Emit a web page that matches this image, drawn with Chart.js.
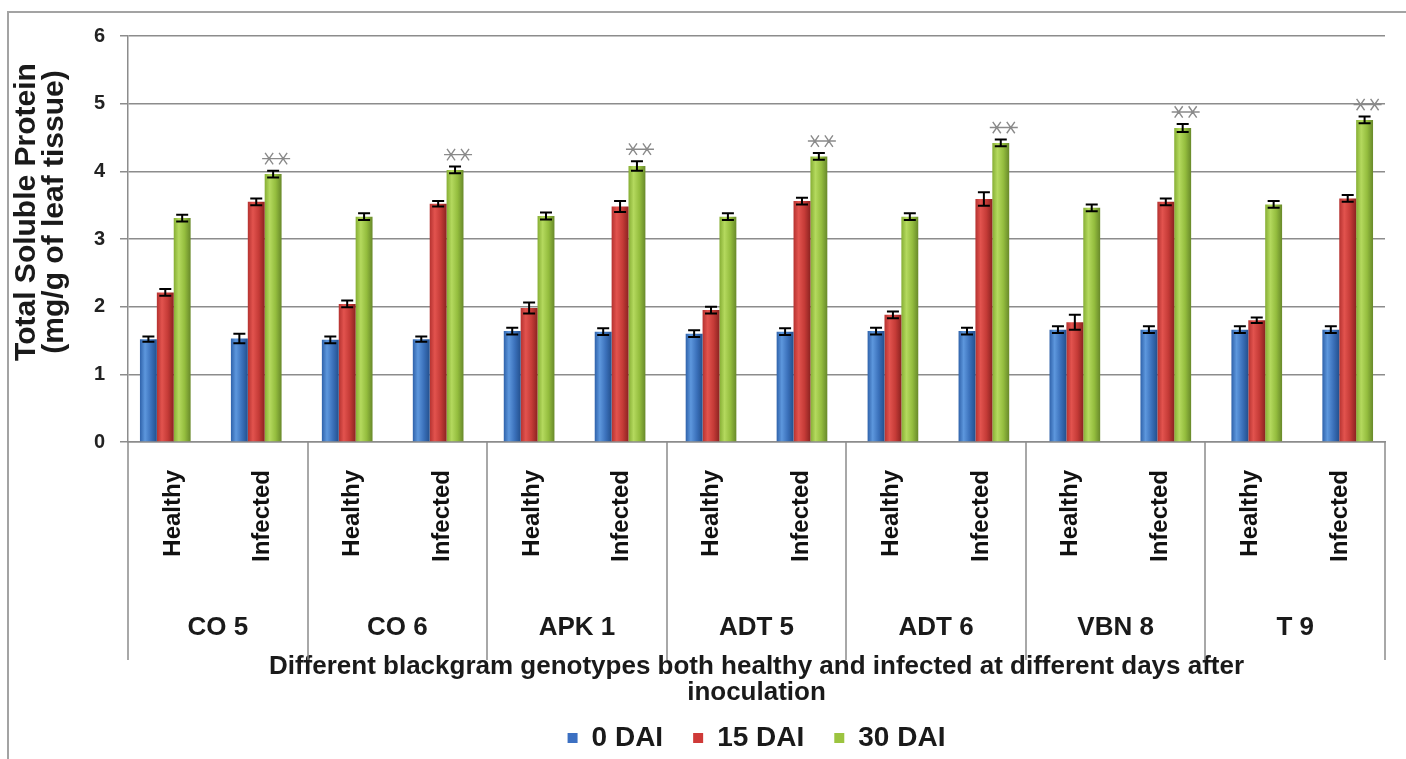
<!DOCTYPE html>
<html>
<head>
<meta charset="utf-8">
<script src="https://cdn.jsdelivr.net/npm/chart.js@4.4.1/dist/chart.umd.min.js"></script>
<style>
    html, body { margin: 0; padding: 0; background: #fff; }
</style>
</head>
<body>
<canvas id="myChart" width="1406" height="759"></canvas>
<script>
var categories = ['Healthy', 'Infected', 'Healthy', 'Infected', 'Healthy', 'Infected', 'Healthy',
                  'Infected', 'Healthy', 'Infected', 'Healthy', 'Infected', 'Healthy', 'Infected'];
var genotypes = ['CO 5', 'CO 6', 'APK 1', 'ADT 5', 'ADT 6', 'VBN 8', 'T 9'];
var seriesNames = ['0 DAI', '15 DAI', '30 DAI'];

var dai0  = [1.52, 1.53, 1.51, 1.52, 1.64, 1.63, 1.60, 1.63, 1.64, 1.64, 1.66, 1.66, 1.66, 1.66];
var dai15 = [2.21, 3.55, 2.04, 3.52, 1.98, 3.48, 1.95, 3.56, 1.88, 3.59, 1.77, 3.55, 1.80, 3.60];
var dai30 = [3.31, 3.96, 3.33, 4.02, 3.34, 4.08, 3.33, 4.22, 3.33, 4.42, 3.46, 4.64, 3.51, 4.76];

var err0  = [0.04, 0.07, 0.05, 0.04, 0.05, 0.05, 0.05, 0.05, 0.05, 0.05, 0.05, 0.05, 0.05, 0.05];
var err15 = [0.05, 0.05, 0.05, 0.04, 0.08, 0.08, 0.05, 0.05, 0.05, 0.10, 0.11, 0.05, 0.04, 0.05];
var err30 = [0.05, 0.05, 0.05, 0.05, 0.05, 0.07, 0.05, 0.05, 0.05, 0.05, 0.05, 0.06, 0.05, 0.05];

var yTicks = [0, 1, 2, 3, 4, 5, 6];

var FONT = "'Liberation Sans', Arial, sans-serif";
var CAT_PCT = 0.557;
var legendColors = ['#3c70c2', '#cf3a38', '#9cc440'];
var gradStops = [
    ['#2f62aa', '#5d97dd', '#3b71bb', '#23508e'],
    ['#b53230', '#e2534e', '#c53b37', '#8c2321'],
    ['#86ae34', '#b4d95e', '#94bd3e', '#68892a']
];

function barFill(ds) {
    return function(ctx) {
        var chart = ctx.chart;
        var xb = chart.scales.xb;
        if (!chart.chartArea || !xb || ctx.type !== 'data') return legendColors[ds];
        var w = (xb.getPixelForValue(1) - xb.getPixelForValue(0)) * CAT_PCT / 3;
        var cx = xb.getPixelForValue(ctx.dataIndex) + (ds - 1) * w;
        var g = chart.ctx.createLinearGradient(cx - w / 2, 0, cx + w / 2, 0);
        g.addColorStop(0, gradStops[ds][0]);
        g.addColorStop(0.3, gradStops[ds][1]);
        g.addColorStop(0.65, gradStops[ds][2]);
        g.addColorStop(1, gradStops[ds][3]);
        return g;
    };
}

function points(values) {
    return values.map(function(v, i) { return {x: i, y: v}; });
}

function drawStar(ctx, x, y, r) {
    var angles = [0, 55, 125];
    for (var a = 0; a < angles.length; a++) {
        var t = angles[a] * Math.PI / 180;
        ctx.moveTo(x - r * Math.cos(t), y - r * Math.sin(t));
        ctx.lineTo(x + r * Math.cos(t), y + r * Math.sin(t));
    }
}

var decor = {
    id: 'decor',
    beforeDraw: function(chart) {
        var ctx = chart.ctx;
        ctx.save();
        ctx.fillStyle = '#fff';
        ctx.fillRect(0, 0, chart.width, chart.height);
        ctx.strokeStyle = '#a3a3a3';
        ctx.lineWidth = 2;
        ctx.beginPath();
        ctx.moveTo(8, chart.height);
        ctx.lineTo(8, 12);
        ctx.lineTo(chart.width, 12);
        ctx.stroke();
        ctx.restore();
    },
    afterDatasetsDraw: function(chart) {
        var ctx = chart.ctx;
        var y = chart.scales.y;
        var errs = [err0, err15, err30];
        ctx.save();
        ctx.strokeStyle = '#000';
        ctx.lineWidth = 2;
        chart.data.datasets.forEach(function(ds, d) {
            var meta = chart.getDatasetMeta(d);
            meta.data.forEach(function(bar, i) {
                var v = ds.data[i].y, e = errs[d][i];
                var top = y.getPixelForValue(v + e), bot = y.getPixelForValue(v - e);
                ctx.beginPath();
                ctx.moveTo(bar.x, top); ctx.lineTo(bar.x, bot);
                ctx.moveTo(bar.x - 6, top); ctx.lineTo(bar.x + 6, top);
                ctx.moveTo(bar.x - 6, bot); ctx.lineTo(bar.x + 6, bot);
                ctx.stroke();
            });
        });
        // significance marks over the infected 30 DAI bars
        var meta30 = chart.getDatasetMeta(2);
        ctx.strokeStyle = '#8a8a8a';
        ctx.lineWidth = 1.4;
        meta30.data.forEach(function(bar, i) {
            if (i % 2 === 0) return;
            var sy = y.getPixelForValue(dai30[i] + err30[i]) - 12;
            var sx = bar.x + 3;
            ctx.beginPath();
            drawStar(ctx, sx - 7, sy, 7);
            drawStar(ctx, sx + 7, sy, 7);
            ctx.stroke();
        });
        ctx.restore();
    },
    afterDraw: function(chart) {
        var ctx = chart.ctx;
        var x = chart.scales.x;
        var base = chart.scales.y.getPixelForValue(0);
        var gw = (x.right - x.left) / genotypes.length;
        ctx.save();
        ctx.strokeStyle = '#8c8c8c';
        ctx.lineWidth = 1.5;
        ctx.beginPath();
        for (var g = 0; g <= genotypes.length; g++) {
            var lx = Math.round(x.left + g * gw);
            ctx.moveTo(lx, base);
            ctx.lineTo(lx, base + 218);
        }
        ctx.stroke();
        ctx.fillStyle = '#1a1a1a';
        ctx.font = 'bold 26px ' + FONT;
        ctx.textAlign = 'center';
        ctx.textBaseline = 'middle';
        genotypes.forEach(function(name, g) {
            ctx.fillText(name, x.left + (g + 0.5) * gw, base + 186);
        });
        // y axis title
        ctx.translate(0, 212);
        ctx.rotate(-Math.PI / 2);
        ctx.font = 'bold 30px ' + FONT;
        ctx.fillText('Total Soluble Protein', 0, 27);
        ctx.fillText('(mg/g of leaf tissue)', 0, 55);
        ctx.restore();
    }
};

var ctx = document.getElementById('myChart');

var BarGraph = new Chart(ctx, {
    type: 'bar',
    data: {
        datasets: [0, 1, 2].map(function(d) {
            return {
                label: seriesNames[d],
                data: points([dai0, dai15, dai30][d]),
                xAxisID: 'xb',
                backgroundColor: barFill(d),
                borderWidth: 0,
                barPercentage: 1,
                categoryPercentage: CAT_PCT
            };
        })
    },
    options: {
        responsive: false,
        animation: false,
        layout: {
            padding: {top: 36, right: 21, bottom: -3, left: 0}
        },
        scales: {
            xb: {
                type: 'linear',
                display: false,
                offset: false,
                min: -0.41,
                max: 13.41
            },
            x: {
                type: 'category',
                labels: categories,
                offset: true,
                grid: {display: false, drawTicks: false},
                border: {display: true, color: '#8c8c8c', width: 1.5},
                ticks: {
                    maxRotation: 90,
                    minRotation: 90,
                    autoSkip: false,
                    padding: 28,
                    color: '#111',
                    font: {family: FONT, size: 24, weight: 'bold'}
                },
                title: {
                    display: true,
                    text: ['Different blackgram genotypes both healthy and infected at different days after', 'inoculation'],
                    color: '#1a1a1a',
                    font: {family: FONT, size: 26, weight: 'bold', lineHeight: 1.0},
                    padding: {top: 0, bottom: -12}
                },
                afterFit: function(scale) { scale.height = 252; }
            },
            y: {
                min: 0,
                max: 6,
                afterBuildTicks: function(scale) {
                    scale.ticks = yTicks.map(function(v) { return {value: v}; });
                },
                grid: {color: '#8c8c8c', lineWidth: 1.5, tickLength: 8},
                border: {color: '#8c8c8c', width: 1.5},
                ticks: {
                    padding: 15,
                    color: '#222',
                    font: {family: FONT, size: 20, weight: 'bold'}
                },
                afterFit: function(scale) { scale.width = 128; }
            }
        },
        plugins: {
            legend: {
                position: 'bottom',
                fullSize: false,
                labels: {
                    boxWidth: 10,
                    boxHeight: 10,
                    padding: 30,
                    color: '#1a1a1a',
                    font: {family: FONT, size: 28, weight: 'bold'},
                    generateLabels: function(chart) {
                        var items = Chart.defaults.plugins.legend.labels.generateLabels(chart);
                        items.forEach(function(it, i) {
                            it.fillStyle = legendColors[i];
                            it.strokeStyle = legendColors[i];
                            it.lineWidth = 0;
                        });
                        return items;
                    }
                }
            },
            tooltip: {enabled: false}
        }
    },
    plugins: [decor]
});
</script>
</body>
</html>
